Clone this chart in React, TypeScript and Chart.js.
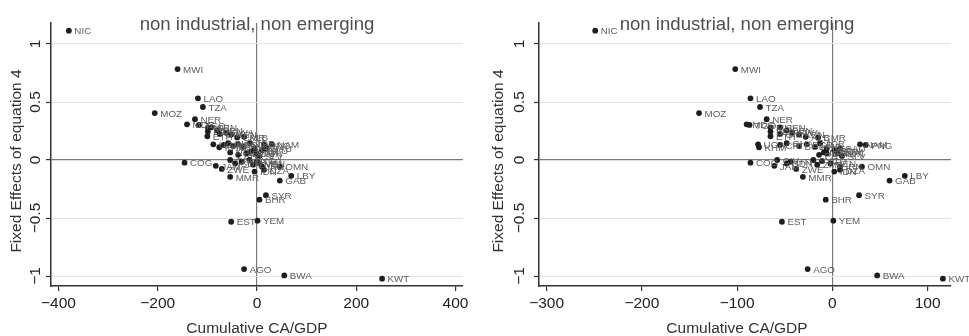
import React, { useEffect, useRef } from 'react';
import { Chart, registerables } from 'chart.js';
Chart.register(...registerables);

// ---------- data ----------
const countries = [
  'NIC', 'MWI', 'LAO', 'TZA', 'MOZ', 'NER', 'MDG', 'TGO', 'MLI', 'SEN',
  'BEN', 'BFA', 'GIN', 'RWA', 'ETH', 'KEN', 'ALB', 'CMR', 'UGA', 'KHM',
  'CRI', 'GHA', 'BOL', 'BGD', 'HND', 'JOR', 'LKA', 'NAM', 'PNG', 'SAU',
  'NPL', 'PRY', 'DOM', 'GTM', 'TUN', 'SLV', 'ECU', 'CIV', 'SDN', 'HTI',
  'JAM', 'COG', 'ZWE', 'ZMB', 'SYC', 'TTO', 'VEN', 'IRN', 'DZA', 'MMR',
  'IDN', 'OMN', 'LBY', 'GAB', 'SYR', 'BHR', 'EST', 'YEM', 'AGO', 'BWA',
  'KWT',
];
// Fixed effects of equation 4 (y, shared by both panels)
const fixedEffects = [
  1.115, 0.784, 0.532, 0.457, 0.405, 0.352, 0.308, 0.302, 0.280, 0.282,
  0.255, 0.245, 0.225, 0.235, 0.205, 0.220, 0.200, 0.195, 0.135, 0.110,
  0.130, 0.145, 0.120, 0.135, 0.115, 0.145, 0.100, 0.135, 0.130, 0.102,
  0.065, 0.045, 0.058, 0.075, 0.058, 0.035, 0.085, 0.000, -0.030, -0.015,
  -0.050, -0.023, -0.077, -0.040, 0.000, -0.010, -0.030, -0.055, -0.085, -0.145,
  -0.100, -0.058, -0.136, -0.177, -0.303, -0.342, -0.532, -0.523, -0.940, -0.995,
  -1.023,
];
// Cumulative CA/GDP, left panel
const caLeft = [
  -379, -160, -119, -109, -206, -125, -141, -117, -99, -92,
  -80, -99, -75, -62, -100, -52, -26, -40, -88, -76,
  -67, -58, -48, -38, -28, -14, -5, 30, 14, 19,
  -54, -38, -21, -12, -1, 5, 10, -54, -44, -31,
  -83, -146, -71, -8, -15, 0, 5, 10, 14, -54,
  -5, 46, 69, 46, 18, 5, -52, 1, -26, 55,
  252,
];
// Cumulative CA/GDP, right panel
const caRight = [
  -249, -102, -86, -76, -140, -69, -90, -87, -65, -55,
  -48, -65, -55, -42, -65, -35, -28, -15, -78, -77,
  -55, -48, -35, -27, -18, -13, -6, 29, 35, 8,
  -9, -14, -6, 4, 6, 10, 2, -58, -48, -44,
  -61, -86, -38, -16, -20, -11, -2, 8, 8, -31,
  2, 31, 76, 60, 28, -7, -53, 1, -26, 47,
  116,
];
const yTicks = [-1, -0.5, 0, 0.5, 1];
const xTicksLeft = [-400, -200, 0, 200, 400];
const xTicksRight = [-300, -200, -100, 0, 100];
const panelTitle = 'non industrial, non emerging';
const xTitle = 'Cumulative CA/GDP';
const yTitle = 'Fixed Effects of equation 4';

const FONT = '"Liberation Sans", Arial, Helvetica, sans-serif';
const fmt = (v: number) => (v < 0 ? '\u2212' + String(Math.abs(v)) : String(v));

const textPlugin = {
  id: 'panelText',
  afterDatasetsDraw(chart: any) {
    const ctx = chart.ctx;
    const meta = chart.getDatasetMeta(0);
    ctx.save();
    ctx.font = `9.8px ${FONT}`;
    ctx.fillStyle = '#5e5e5e';
    ctx.textAlign = 'left';
    ctx.textBaseline = 'middle';
    meta.data.forEach((el: any, i: number) => {
      ctx.fillText(countries[i], el.x + 5.5, el.y + 1);
    });
    ctx.restore();
  },
  afterDraw(chart: any, _args: any, opts: any) {
    const ctx = chart.ctx;
    const ys = chart.scales.y;
    ctx.save();
    // main title
    ctx.font = `18.6px ${FONT}`;
    ctx.fillStyle = '#505050';
    ctx.textAlign = 'center';
    ctx.textBaseline = 'alphabetic';
    ctx.fillText(panelTitle, opts.centerX, 29.5);
    // x title
    ctx.font = `15.5px ${FONT}`;
    ctx.fillStyle = '#333333';
    ctx.textBaseline = 'middle';
    ctx.fillText(xTitle, opts.centerX, 329);
    // y tick labels (rotated)
    ctx.fillStyle = '#222222';
    ys.ticks.forEach((t: any) => {
      const py = ys.getPixelForValue(t.value);
      ctx.save();
      ctx.translate(opts.yLabelX, py);
      ctx.rotate(-Math.PI / 2);
      ctx.textAlign = 'center';
      ctx.textBaseline = 'middle';
      ctx.fillText(fmt(t.value), 0, 0);
      ctx.restore();
    });
    // y title
    ctx.fillStyle = '#333333';
    ctx.save();
    ctx.translate(opts.yTitleX, 161);
    ctx.rotate(-Math.PI / 2);
    ctx.textAlign = 'center';
    ctx.textBaseline = 'middle';
    ctx.fillText(yTitle, 0, 0);
    ctx.restore();
    ctx.restore();
  },
};

type PanelProps = {
  xs: number[];
  xMin: number;
  xMax: number;
  xTicks: number[];
  axisLeft: number;
  padRight: number;
  width: number;
  centerX: number;
  yLabelX: number;
  yTitleX: number;
};

function Panel(p: PanelProps) {
  const ref = useRef<HTMLCanvasElement | null>(null);
  useEffect(() => {
    if (!ref.current) return;
    const data = p.xs.map((x, i) => ({ x, y: fixedEffects[i] }));
    const chart = new Chart(ref.current, {
      type: 'scatter',
      data: {
        datasets: [
          {
            data,
            pointRadius: 2.9,
            pointBackgroundColor: '#1e1e1e',
            pointBorderWidth: 0,
            pointHoverRadius: 2.9,
          },
        ],
      },
      options: {
        animation: false,
        responsive: false,
        devicePixelRatio: 1,
        events: [],
        layout: { padding: { top: 23, right: p.padRight, bottom: 0, left: 0 } },
        plugins: {
          legend: { display: false },
          tooltip: { enabled: false },
          title: { display: false },
          panelText: { centerX: p.centerX, yLabelX: p.yLabelX, yTitleX: p.yTitleX },
        } as any,
        scales: {
          x: {
            type: 'linear',
            min: p.xMin,
            max: p.xMax,
            afterBuildTicks: (s: any) => {
              s.ticks = p.xTicks.map((v) => ({ value: v }));
            },
            afterFit: (s: any) => {
              s.height = 50;
            },
            ticks: {
              callback: (v: any) => fmt(Number(v)),
              font: { family: FONT, size: 15.5 },
              color: '#222222',
              padding: 3,
              maxRotation: 0,
              minRotation: 0,
            },
            grid: {
              color: (c: any) => (c.tick && c.tick.value === 0 ? '#7a7a7a' : 'rgba(0,0,0,0)'),
              lineWidth: 1.2,
              drawTicks: true,
              tickLength: 5,
              tickColor: '#333333',
              tickWidth: 1.2,
            },
            border: { display: true, color: '#333333', width: 1.5 },
          },
          y: {
            type: 'linear',
            min: -1.086,
            max: 1.181,
            afterBuildTicks: (s: any) => {
              s.ticks = yTicks.map((v) => ({ value: v }));
            },
            afterFit: (s: any) => {
              s.width = p.axisLeft;
            },
            ticks: { display: false },
            grid: {
              color: (c: any) => (c.tick && c.tick.value === 0 ? '#7a7a7a' : '#e4e4e4'),
              lineWidth: (c: any) => (c.tick && c.tick.value === 0 ? 1.2 : 1),
              drawTicks: true,
              tickLength: 5,
              tickColor: '#333333',
              tickWidth: 1.2,
            },
            border: { display: true, color: '#333333', width: 1.5 },
          },
        },
      },
      plugins: [textPlugin as any],
    });
    return () => chart.destroy();
  }, []);
  return <canvas ref={ref} width={p.width} height={336} style={{ display: 'block', width: p.width, height: 336 }} />;
}

export default function App() {
  return (
    <div style={{ position: 'absolute', left: 0, top: 0, width: 969, height: 336, display: 'flex', background: '#ffffff' }}>
      <Panel xs={caLeft} xMin={-415} xMax={415} xTicks={xTicksLeft} axisLeft={51} padRight={21} width={484}
        centerX={257} yLabelX={36} yTitleX={17} />
      <Panel xs={caRight} xMin={-308} xMax={124.5} xTicks={xTicksRight} axisLeft={55} padRight={18} width={485}
        centerX={253} yLabelX={36} yTitleX={15} />
    </div>
  );
}
